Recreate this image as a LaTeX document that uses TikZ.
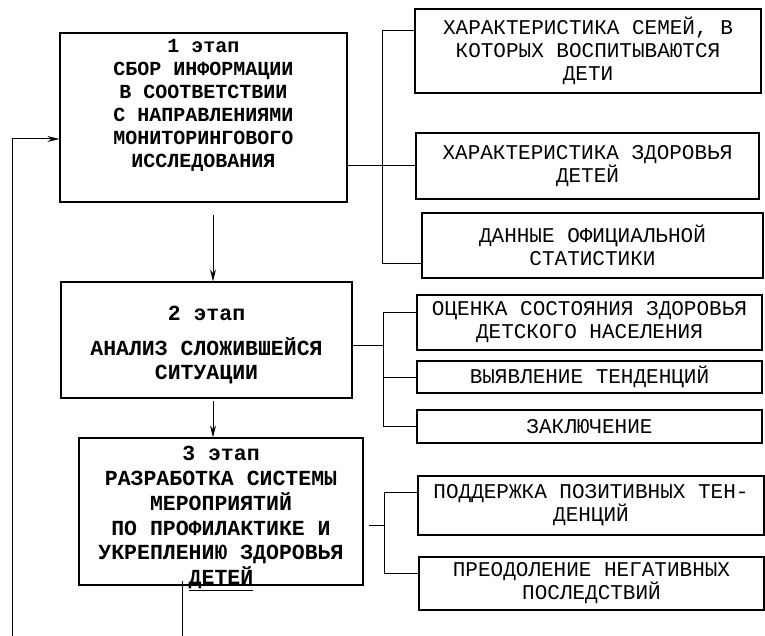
\documentclass[tikz,border=0pt]{standalone}
\usepackage{fontspec}
\setmonofont{Liberation Mono}
\usetikzlibrary{arrows.meta}
\tikzset{
  stagebox/.style = {draw=black, line width=1.2pt, align=center, inner sep=0pt,
    font=\ttfamily\bfseries\fontsize{21.5}{24.5}\selectfont},% stage box
  itembox/.style = {draw=black, line width=1.1pt, align=center, inner sep=0pt,
    font=\ttfamily\fontsize{21}{23}\selectfont},% result box
  link/.style = {line width=1pt},
}
\begin{document}
\begin{tikzpicture}[x=1pt,y=-1pt,>={Stealth[length=12pt,width=6pt]}]
  \useasboundingbox (0,0) rectangle (765,636);

  % stages
  \node[stagebox, font=\ttfamily\bfseries\fontsize{20}{23}\selectfont,
    minimum width=287pt, minimum height=169pt] (s1) at (203.5,117.5)
    {1 этап\\СБОР ИНФОРМАЦИИ\\В СООТВЕТСТВИИ\\С НАПРАВЛЕНИЯМИ\\МОНИТОРИНГОВОГО\\ИССЛЕДОВАНИЯ\\[6pt]~};
  \node[stagebox, minimum width=291pt, minimum height=116pt] (s2) at (206.5,340)
    {\rule{0pt}{25pt}2 этап\\[10pt]АНАЛИЗ СЛОЖИВШЕЙСЯ\\СИТУАЦИИ};
  \node[stagebox, minimum width=284pt, minimum height=147pt] (s3) at (221,511.5) {};
  \node[stagebox, draw=none, font=\ttfamily\bfseries\fontsize{21.5}{24.9}\selectfont]
    (s3t) at (221,518.5)
    {3 этап\\РАЗРАБОТКА СИСТЕМЫ\\МЕРОПРИЯТИЙ\\ПО ПРОФИЛАКТИКЕ И\\УКРЕПЛЕНИЮ ЗДОРОВЬЯ\\\underline{ДЕТЕЙ}};

  % results of stage 1
  \node[itembox, minimum width=346pt, minimum height=84pt] (r1) at (588,51)
    {ХАРАКТЕРИСТИКА СЕМЕЙ, В\\КОТОРЫХ ВОСПИТЫВАЮТСЯ\\ДЕТИ};
  \node[itembox, minimum width=343pt, minimum height=66pt] (r2) at (587.5,166)
    {ХАРАКТЕРИСТИКА ЗДОРОВЬЯ\\ДЕТЕЙ};
  \node[itembox, minimum width=341pt, minimum height=65pt] (r3) at (592.5,245.5)
    {ДАННЫЕ ОФИЦИАЛЬНОЙ\\СТАТИСТИКИ};

  % results of stage 2
  \node[itembox, minimum width=345pt, minimum height=55pt] (r4) at (589.5,322.5)
    {ОЦЕНКА СОСТОЯНИЯ ЗДОРОВЬЯ\\ДЕТСКОГО НАСЕЛЕНИЯ};
  \node[itembox, minimum width=345pt, minimum height=32pt] (r5) at (589.5,377)
    {ВЫЯВЛЕНИЕ ТЕНДЕНЦИЙ};
  \node[itembox, minimum width=345pt, minimum height=33pt] (r6) at (589.5,426.5)
    {ЗАКЛЮЧЕНИЕ};

  % results of stage 3
  \node[itembox, minimum width=346pt, minimum height=59pt] (r7) at (591,505.5)
    {ПОДДЕРЖКА ПОЗИТИВНЫХ ТЕН-\\ДЕНЦИЙ};
  \node[itembox, minimum width=345pt, minimum height=53pt] (r8) at (591.5,583.5)
    {ПРЕОДОЛЕНИЕ НЕГАТИВНЫХ\\ПОСЛЕДСТВИЙ};

  % bracket points
  \coordinate (b1t) at (382,31);
  \coordinate (b1b) at (382,263);
  \coordinate (b2t) at (383,312);
  \coordinate (b2m) at (383,345);
  \coordinate (b3t) at (384,492);
  \coordinate (b3m) at (384,525);
  \coordinate (b3b) at (384,573);

  % stage 1 brackets
  \draw[link] (s1.east |- r2.west) -- (r2.west);
  \draw[link] (b1t -| r1.west) -- (b1t) -- (b1b) -- (b1b -| r3.west);
  % stage 2 brackets
  \draw[link] (s2.east |- b2m) -- (b2m);
  \draw[link] (b2t -| r4.west) -- (b2t) -- (b2t |- r6.west) -- (r6.west);
  \draw[link] (b2t |- r5.west) -- (r5.west);
  % stage 3 brackets
  \draw[link] ([xshift=5pt]s3.east |- b3m) -- (b3m);
  \draw[link] (b3t -| r7.west) -- (b3t) -- (b3b) -- (b3b -| r8.west);

  % flow
  \coordinate (a12) at (213,215);
  \coordinate (a23) at (213,401);
  \draw[link,->] (a12) -- (a12 |- s2.north);
  \draw[link,->] (a23) -- (a23 |- s3.north);
  \coordinate (fb0) at (182,636);
  \coordinate (fb1) at (12,636);
  \coordinate (fb2) at (12,139);
  \draw[link] ([yshift=5pt]s3.south -| fb0) -- (fb0);
  \draw[link,->] (fb1) -- (fb2) -- (fb2 -| s1.west);
\end{tikzpicture}
\end{document}
